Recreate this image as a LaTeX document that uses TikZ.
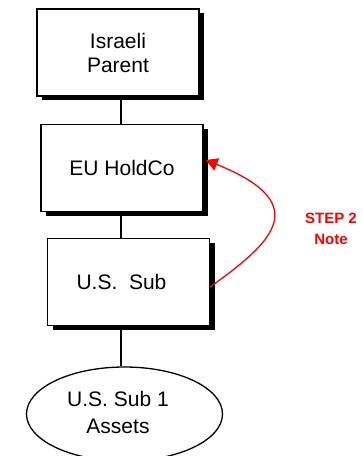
\documentclass[tikz,border=0pt]{standalone}
\usepackage{fontspec}
\setmainfont{Liberation Sans}
\usetikzlibrary{shadows,arrows.meta,shapes.geometric}

\tikzset{
  entity/.style={draw, line width=1.3pt, fill=white, inner sep=0pt,
    minimum width=162pt, minimum height=87pt, align=center,
    font=\fontsize{21}{24}\selectfont,
    general shadow={fill=black, shadow xshift=5pt, shadow yshift=-4pt}},
  assetpool/.style={draw, line width=1.3pt, ellipse, inner sep=0pt,
    minimum width=196pt, minimum height=94pt},
  owns/.style={line width=1.3pt},
  stepnote/.style={red, font=\bfseries\fontsize{15}{21}\selectfont, align=center},
  steparrow/.style={red, line width=1.3pt, -{Triangle[length=12pt,width=13pt]}}
}

\begin{document}
\begin{tikzpicture}[x=1pt,y=-1pt]
  \useasboundingbox (0,0) rectangle (363,456);

  % ownership axis
  \coordinate (axis) at (121,0);

  % entities
  \node[entity] (parent) at (118,52.5) {Israeli\\Parent};
  \node[entity] (hold)   at (122,168)  {EU HoldCo};
  \node[entity] (sub)    at (128.5,282) {};
  \node[font=\fontsize{21}{24}\selectfont] (subtext) at (121.5,282) {U.S.\ \ Sub};
  \node[assetpool] (assets) at (124.5,414) {};
  \node[align=center, font=\fontsize{21}{27}\selectfont] (assetstext) at (118,412)
    {U.S. Sub 1\\Assets};

  % ownership lines
  \draw[owns] (parent.south -| axis) -- (hold.north -| axis);
  \draw[owns] (hold.south -| axis) -- (sub.north -| axis);
  \draw[owns] (sub.south -| axis) -- (assets.north -| axis);

  % step 2
  \draw[steparrow] ([yshift=-5pt]sub.east) .. controls (268,245) and (318,205) .. ([xshift=2pt,yshift=8pt]hold.east);
  \node[stepnote] (note) at (331,229) {STEP 2\\Note};
\end{tikzpicture}
\end{document}
